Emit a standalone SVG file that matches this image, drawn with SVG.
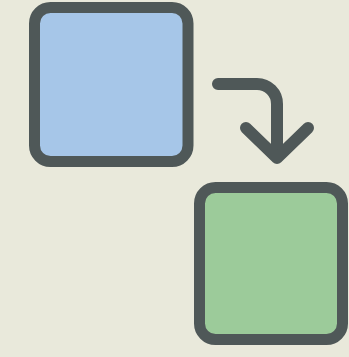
<svg xmlns="http://www.w3.org/2000/svg" width="349" height="357" viewBox="0 0 349 357">
<style>
.node{stroke:#4f5858;stroke-width:11;}
.conn{fill:none;stroke:#4f5858;stroke-width:12;stroke-linecap:round;stroke-linejoin:round;}
</style>
<rect width="349" height="357" fill="#e9e9db"/>
<g id="blue">
<rect class="node" x="34.5" y="7.5" width="153.5" height="154" rx="16" fill="#a6c6e8"/>
</g>
<g id="green">
<rect class="node" x="199.5" y="187.5" width="143" height="152" rx="16" fill="#9ccb9a"/>
</g>
<g id="connectors">
<path class="conn" d="M218 84 H257 A20 20 0 0 1 277 104 V156"/>
<path class="conn" d="M246 128 L277 158 L308 128"/>
</g>
</svg>
